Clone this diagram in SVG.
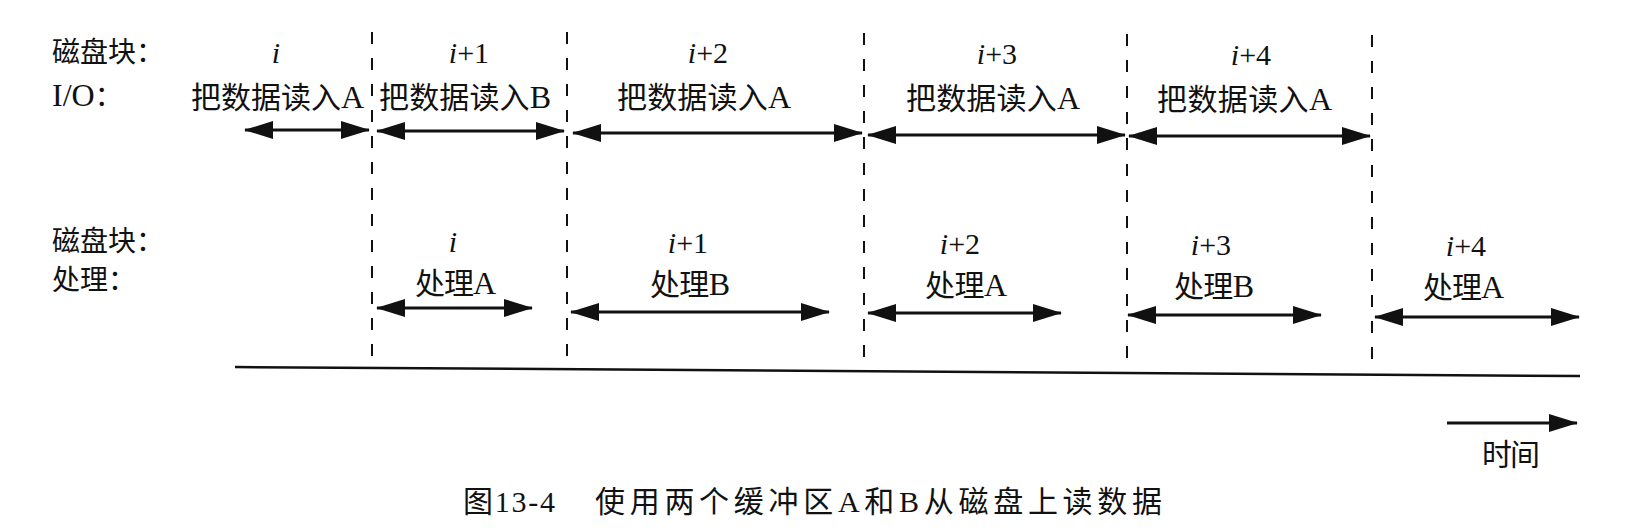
<svg xmlns="http://www.w3.org/2000/svg" width="1642" height="532" viewBox="0 0 1642 532">
<style>
text{font-family:"Liberation Serif","Noto Sans CJK SC",serif;fill:#111}
.lbl{font-size:28px}
.t{font-size:30px}
.n{font-size:30px;text-anchor:middle}
.it{font-style:italic}
.L{font-size:32px}
.dash{stroke:#111;stroke-width:2;stroke-dasharray:12 14;fill:none}
.arr{stroke:#111;stroke-width:2.8;fill:none;marker-start:url(#ah);marker-end:url(#ah)}
.one{stroke:#111;stroke-width:2.8;fill:none;marker-end:url(#ah)}
</style>
<defs>
<marker id="ah" markerUnits="userSpaceOnUse" markerWidth="30" markerHeight="18" refX="28" refY="9" orient="auto-start-reverse" viewBox="0 0 30 18">
<path d="M0,0 L29,9 L0,18 z" fill="#111"/>
</marker>
</defs>
<rect width="1642" height="532" fill="#fff"/>
<g id="row-labels">
<text class="lbl" x="52" y="62">磁盘块：</text>
<text class="lbl" x="52" y="106"><tspan class="L">I/O</tspan>：</text>
<text class="lbl" x="52" y="251">磁盘块：</text>
<text class="lbl" x="52" y="290">处理：</text>
</g>
<g id="dividers">
<line class="dash" x1="372" y1="32" x2="372" y2="363"/>
<line class="dash" x1="567" y1="32" x2="567" y2="363"/>
<line class="dash" x1="864" y1="33" x2="864" y2="363"/>
<line class="dash" x1="1127" y1="34" x2="1127" y2="363"/>
<line class="dash" x1="1372" y1="35" x2="1372" y2="363"/>
</g>
<g id="io-i"><text class="n" x="276" y="63"><tspan class="it">i</tspan></text><text class="t" x="191" y="108" textLength="173" lengthAdjust="spacing">把数据读入<tspan class="L">A</tspan></text></g>
<g id="io-i1"><text class="n" x="469" y="63"><tspan class="it">i</tspan>+1</text><text class="t" x="379" y="108" textLength="172" lengthAdjust="spacing">把数据读入<tspan class="L">B</tspan></text></g>
<g id="io-i2"><text class="n" x="708" y="63"><tspan class="it">i</tspan>+2</text><text class="t" x="617" y="108" textLength="174" lengthAdjust="spacing">把数据读入<tspan class="L">A</tspan></text></g>
<g id="io-i3"><text class="n" x="997" y="64"><tspan class="it">i</tspan>+3</text><text class="t" x="906" y="109" textLength="174" lengthAdjust="spacing">把数据读入<tspan class="L">A</tspan></text></g>
<g id="io-i4"><text class="n" x="1251" y="65"><tspan class="it">i</tspan>+4</text><text class="t" x="1157" y="110" textLength="175" lengthAdjust="spacing">把数据读入<tspan class="L">A</tspan></text></g>
<g id="pr-i"><text class="n" x="453" y="252"><tspan class="it">i</tspan></text><text class="t" x="415" y="294" textLength="81" lengthAdjust="spacing">处理<tspan class="L">A</tspan></text></g>
<g id="pr-i1"><text class="n" x="688" y="253"><tspan class="it">i</tspan>+1</text><text class="t" x="650" y="295" textLength="80" lengthAdjust="spacing">处理<tspan class="L">B</tspan></text></g>
<g id="pr-i2"><text class="n" x="960" y="254"><tspan class="it">i</tspan>+2</text><text class="t" x="925" y="296" textLength="82" lengthAdjust="spacing">处理<tspan class="L">A</tspan></text></g>
<g id="pr-i3"><text class="n" x="1211" y="255"><tspan class="it">i</tspan>+3</text><text class="t" x="1174" y="297" textLength="80" lengthAdjust="spacing">处理<tspan class="L">B</tspan></text></g>
<g id="pr-i4"><text class="n" x="1466" y="256"><tspan class="it">i</tspan>+4</text><text class="t" x="1423" y="298" textLength="81" lengthAdjust="spacing">处理<tspan class="L">A</tspan></text></g>
<g id="connectors">
<line class="arr" x1="245" y1="130" x2="369" y2="130"/>
<line class="arr" x1="377" y1="131" x2="564" y2="131"/>
<line class="arr" x1="573" y1="133" x2="862" y2="133"/>
<line class="arr" x1="868" y1="135" x2="1125" y2="135"/>
<line class="arr" x1="1129" y1="136" x2="1370" y2="136"/>
<line class="arr" x1="377" y1="308" x2="532" y2="308"/>
<line class="arr" x1="571" y1="312" x2="829" y2="312"/>
<line class="arr" x1="868" y1="313" x2="1061" y2="313"/>
<line class="arr" x1="1128" y1="315" x2="1321" y2="315"/>
<line class="arr" x1="1375" y1="317" x2="1579" y2="317"/>
<line x1="235" y1="367" x2="1580" y2="376" stroke="#111" stroke-width="2.5"/>
<line class="one" x1="1447" y1="423" x2="1577" y2="423"/>
</g>
<g id="time-label"><text class="t" x="1482" y="465" font-size="29" textLength="58" lengthAdjust="spacing">时间</text></g>
<g id="caption">
<text class="t" x="463" y="512" font-size="31" textLength="92" lengthAdjust="spacing">图13-4</text>
<text class="t" x="595" y="512" font-size="31" textLength="567" lengthAdjust="spacing">使用两个缓冲区A和B从磁盘上读数据</text>
</g>
</svg>
